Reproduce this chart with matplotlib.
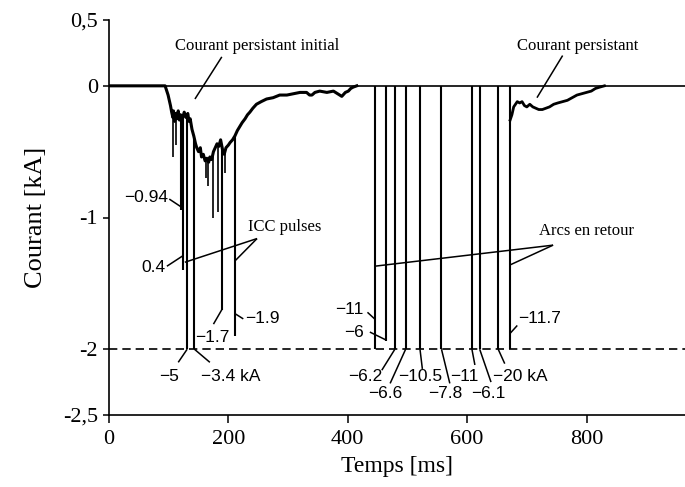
import numpy as np
import matplotlib
matplotlib.use("Agg")
import matplotlib.pyplot as plt

SERIF = "Liberation Serif"
SANS = "Liberation Sans"

# slow component before the ICC pulses (ms, kA)
trace_t = [0, 94, 99, 103, 105, 107, 108, 110, 112, 114, 116, 118, 120, 123, 126, 129, 132,
           134, 136, 139, 142, 145, 147, 150, 153, 155, 158, 161, 164, 167, 169, 172, 175,
           178, 181, 184, 187, 190, 193, 196, 200, 203, 207, 211, 215, 219, 223, 228, 232,
           236, 241, 247, 255, 264, 275, 286, 298, 309, 320, 331, 336, 340, 345, 353, 365,
           376, 383, 390, 396, 401, 405, 409, 415]
trace_i = [0, 0, -0.07, -0.15, -0.20, -0.24, -0.19, -0.27, -0.21, -0.25, -0.19, -0.26, -0.22,
           -0.25, -0.20, -0.24, -0.21, -0.27, -0.25, -0.33, -0.38, -0.44, -0.47, -0.50, -0.47,
           -0.54, -0.52, -0.57, -0.55, -0.58, -0.54, -0.56, -0.50, -0.47, -0.44, -0.46, -0.41,
           -0.48, -0.52, -0.47, -0.45, -0.43, -0.41, -0.38, -0.34, -0.31, -0.28, -0.25, -0.22,
           -0.20, -0.17, -0.14, -0.12, -0.10, -0.09, -0.07, -0.07, -0.06, -0.05, -0.05, -0.07,
           -0.07, -0.05, -0.04, -0.05, -0.04, -0.06, -0.08, -0.05, -0.04, -0.02, -0.01, 0]

# persistent current after the last return stroke
recov_t = [672, 675, 678, 681, 684, 688, 692, 696, 700, 705, 710, 715, 720, 726, 732, 738,
           745, 752, 760, 768, 776, 784, 792, 800, 808, 815, 822, 830]
recov_i = [-0.26, -0.22, -0.16, -0.14, -0.12, -0.13, -0.12, -0.15, -0.16, -0.14, -0.16, -0.17,
           -0.18, -0.18, -0.17, -0.16, -0.14, -0.13, -0.12, -0.11, -0.09, -0.07, -0.06, -0.05,
           -0.04, -0.02, -0.01, 0]

# small noise spikes in the initial current
spike_t = [107, 113, 162, 166, 174, 183, 194]
spike_i = [-0.54, -0.45, -0.70, -0.76, -1.00, -0.96, -0.66]

# ICC pulses: time, drawn depth (clipped at -2), label
icc_t = [121, 124, 131, 143, 189, 211]
icc_i = [-0.94, -1.40, -2.0, -2.0, -1.70, -1.90]
icc_labels = ["\u22120.94", "0.4", "\u22125", "\u22123.4 kA", "\u22121.7", "\u22121.9"]

# return strokes
arc_t = [445, 464, 479, 497, 521, 557, 608, 621, 652, 672]
arc_i = [-2.0, -1.94, -2.0, -2.0, -2.0, -2.0, -2.0, -2.0, -2.0, -2.0]
arc_labels = ["\u221211", "\u22126", "\u22126.2", "\u22126.6", "\u221210.5", "\u22127.8",
              "\u221211", "\u22126.1", "\u221220 kA", "\u221211.7"]

# leader layout: (attach y, leader end x, leader end y, text x, text y, ha)
ICC_LAYOUT = [
    (-0.92, 101, -0.86, 99, -0.85, "right"),
    (-1.29, 97, -1.37, 95, -1.38, "right"),
    (-2.0, 116, -2.10, 100, -2.21, "center"),
    (-2.0, 169, -2.10, 204, -2.21, "center"),
    (-1.70, 175, -1.81, 173, -1.91, "center"),
    (-1.73, 225, -1.77, 228, -1.77, "left"),
]
ARC_LAYOUT = [
    (-1.77, 433, -1.72, 427, -1.70, "right"),
    (-1.93, 437, -1.87, 427, -1.87, "right"),
    (-2.0, 457, -2.16, 429, -2.21, "center"),
    (-2.0, 471, -2.26, 462, -2.34, "center"),
    (-2.0, 525, -2.15, 522, -2.21, "center"),
    (-2.0, 571, -2.26, 564, -2.34, "center"),
    (-2.0, 613, -2.12, 596, -2.21, "center"),
    (-2.0, 640, -2.25, 635, -2.34, "center"),
    (-2.0, 663, -2.11, 689, -2.21, "center"),
    (-1.88, 684, -1.82, 686, -1.77, "left"),
]


def leader(ax, x0, y0, x1, y1):
    ax.plot([x0, x1], [y0, y1], color="k", lw=1.1, solid_capstyle="butt", clip_on=False)


def main():
    fig = plt.figure(figsize=(6.85, 4.87), dpi=100)
    ax = fig.add_axes([109 / 685, 72 / 487, 576 / 685, 395 / 487])

    ax.axhline(0, color="k", lw=1.2)
    ax.axhline(-2, color="k", lw=1.2, ls=(0, (5, 3)))

    ax.plot(trace_t, trace_i, color="k", lw=2.2, solid_joinstyle="round")
    ax.plot(recov_t, recov_i, color="k", lw=2.0, solid_joinstyle="round")

    top = np.interp(spike_t, trace_t, trace_i)
    ax.vlines(spike_t, spike_i, top, color="k", lw=1.2)
    top = np.interp(icc_t, trace_t, trace_i)
    ax.vlines(icc_t, icc_i, top, color="k", lw=1.5)
    ax.vlines(arc_t, arc_i, 0, color="k", lw=1.5)

    for t, lab, (ay, lx, ly, tx, ty, ha) in zip(icc_t, icc_labels, ICC_LAYOUT):
        leader(ax, t, ay, lx, ly)
        ax.text(tx, ty, lab, family=SANS, fontsize=12.5, ha=ha, va="center")
    for t, lab, (ay, lx, ly, tx, ty, ha) in zip(arc_t, arc_labels, ARC_LAYOUT):
        leader(ax, t, ay, lx, ly)
        ax.text(tx, ty, lab, family=SANS, fontsize=12.5, ha=ha, va="center")

    # descriptive labels
    ax.text(248, 0.30, "Courant persistant initial", family=SERIF, fontsize=12,
            ha="center", va="center")
    leader(ax, 189, 0.22, 144, -0.10)
    ax.text(786, 0.30, "Courant persistant", family=SERIF, fontsize=12,
            ha="center", va="center")
    leader(ax, 760, 0.23, 717, -0.09)

    ax.text(233, -1.07, "ICC pulses", family=SERIF, fontsize=12, ha="left", va="center")
    leader(ax, 248, -1.16, 127, -1.34)
    leader(ax, 248, -1.16, 211, -1.33)

    ax.text(800, -1.10, "Arcs en retour", family=SERIF, fontsize=12, ha="center", va="center")
    leader(ax, 744, -1.21, 445, -1.37)
    leader(ax, 744, -1.21, 672, -1.36)

    ax.set_xlim(0, 965)
    ax.set_ylim(-2.5, 0.5)
    ax.set_xticks([0, 200, 400, 600, 800])
    ax.set_yticks([0.5, 0, -1, -2, -2.5], ["0,5", "0", "-1", "-2", "-2,5"])
    for lab in ax.get_xticklabels() + ax.get_yticklabels():
        lab.set_family(SERIF)
        lab.set_fontsize(16)
    ax.tick_params(axis="x", direction="out", length=5.5, width=1.1, pad=5)
    ax.tick_params(axis="y", direction="out", length=4, width=1.1, pad=4)

    for side in ("top", "right"):
        ax.spines[side].set_visible(False)
    for side in ("left", "bottom"):
        ax.spines[side].set_linewidth(1.2)

    ax.set_ylabel("Courant [kA]", family=SERIF, fontsize=19, labelpad=11)
    ax.set_xlabel("Temps [ms]", family=SERIF, fontsize=17, labelpad=5)

    fig.savefig("out.png", dpi=100)
    plt.close(fig)


if __name__ == "__main__":
    main()
